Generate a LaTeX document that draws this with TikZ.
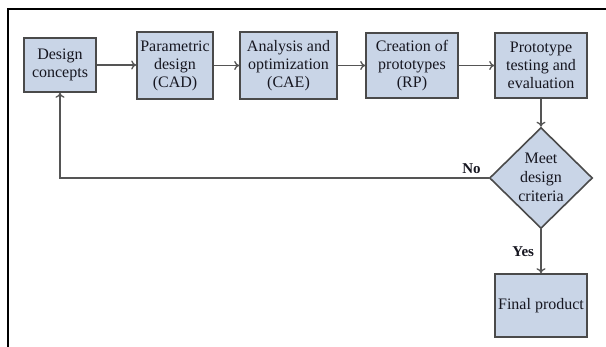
\documentclass[tikz,border=0pt]{standalone}
\usepackage{fontspec}
\setmainfont{Liberation Serif}
\usetikzlibrary{shapes.geometric,arrows.meta}
\definecolor{boxfill}{HTML}{C9D5E7}
\definecolor{boxedge}{HTML}{4A4A4A}
\definecolor{linegray}{HTML}{555555}
\definecolor{txt}{HTML}{161620}
\begin{document}
\begin{tikzpicture}[x=1pt,y=-1pt,
  stepbox/.style={draw=boxedge,line width=1.6pt,fill=boxfill,rectangle,inner sep=0pt,
     align=center,text=txt,font=\fontsize{16}{18}\selectfont},
  decbox/.style={draw=boxedge,line width=1.6pt,fill=boxfill,diamond,inner sep=0pt,
     minimum width=103pt,minimum height=101pt},
  lbl/.style={text=txt,font=\fontsize{15}{18}\selectfont\bfseries},
  conn/.style={draw=linegray,line width=1.3pt,-{To[length=5pt,width=9pt]}},
  frame/.style={draw=black,line width=2.5pt}
]
\useasboundingbox (0,0) rectangle (606,347);
% partial frame
\coordinate (fa) at (8,347);
\coordinate (fb) at (8,9);
\coordinate (fc) at (606,9);
\draw[frame] (fa) -- (fb) -- (fc);

\node[stepbox,minimum width=72pt,minimum height=54pt] (dc) at (60,65) {Design\\concepts};
\node[stepbox,minimum width=76pt,minimum height=67pt] (pd) at (175,65.5) {Parametric\\design\\(CAD)};
\node[stepbox,minimum width=97pt,minimum height=67pt] (ao) at (288.5,65.5) {Analysis and\\optimization\\(CAE)};
\node[stepbox,minimum width=92pt,minimum height=65pt] (cp) at (412,65.5) {Creation of\\prototypes\\(RP)};
\node[stepbox,minimum width=92pt,minimum height=65pt] (pt) at (541,65.5) {Prototype\\testing and\\evaluation};
\node[decbox] (dm) at (541,178) {};
\node[align=center,text=txt,font=\fontsize{16}{19}\selectfont] (dmt) at (541,177) {Meet\\design\\criteria};
\node[stepbox,minimum width=92pt,minimum height=63pt] (fp) at (541,305.5) {Final product};

\draw[conn] (dc.east) -- (pd.west |- dc.east);
\draw[conn] (pd.east) -- (ao.west);
\draw[conn] (ao.east) -- (cp.west);
\draw[conn] (cp.east) -- (pt.west);
\draw[conn] (pt.south) -- (dm.north);
\draw[conn] (dm.south) -- node[lbl,left=3pt,pos=0.5] (yes) {Yes} (fp.north);
\draw[conn] (dm.west) -- node[lbl,above,pos=0.04] (no) {No} (dc.south |- dm.west) -- (dc.south);
\end{tikzpicture}
\end{document}
